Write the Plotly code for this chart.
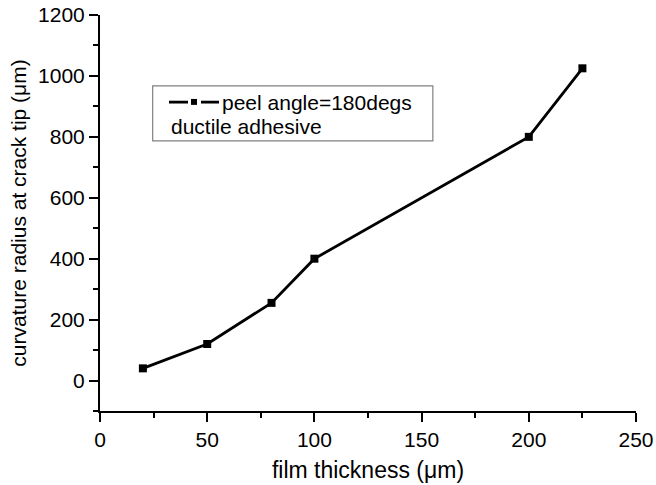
import plotly.graph_objects as go

film_thickness = [20, 50, 80, 100, 200, 225]
curvature_radius = [40, 120, 255, 400, 800, 1025]
x_ticks = [0, 50, 100, 150, 200, 250]
y_ticks = [0, 200, 400, 600, 800, 1000, 1200]
series_name = "peel angle=180degs"
legend_note = "ductile adhesive"

FONT = "Liberation Sans, Arial, sans-serif"

fig = go.Figure()
fig.add_trace(go.Scatter(
    x=film_thickness, y=curvature_radius, mode="lines+markers",
    name=series_name,
    line=dict(color="black", width=2.8),
    marker=dict(symbol="square", size=8, color="black"),
    showlegend=False,
))

axis_common = dict(
    showline=True, linecolor="black", linewidth=2,
    ticks="outside", ticklen=9, tickwidth=2, tickcolor="black",
    showgrid=False, zeroline=False, mirror=False, automargin=False,
    tickfont=dict(family=FONT, size=21, color="black"),
)

fig.update_xaxes(
    range=[0, 250], tickvals=x_ticks,
    title=dict(text="film thickness (\u03bcm)", font=dict(family=FONT, size=23, color="black"), standoff=12),
    minor=dict(dtick=25, tick0=0, ticks="outside", ticklen=5, tickwidth=2, tickcolor="black"),
    **axis_common,
)
fig.update_yaxes(
    range=[-100, 1200], tickvals=y_ticks,
    title=dict(text="curvature radius at crack tip (\u03bcm)", font=dict(family=FONT, size=21, color="black"), standoff=6),
    minor=dict(dtick=100, tick0=0, ticks="outside", ticklen=5, tickwidth=2, tickcolor="black"),
    **axis_common,
)

# manual legend box
shapes = [
    dict(type="rect", xref="paper", yref="paper", x0=0.0983, x1=0.621, y0=0.682, y1=0.821,
         line=dict(color="#808080", width=1.2), fillcolor="white", layer="above"),
    dict(type="line", xref="paper", yref="paper", x0=0.1287, x1=0.1642, y0=0.780, y1=0.780,
         line=dict(color="black", width=2.8), layer="above"),
    dict(type="line", xref="paper", yref="paper", x0=0.1884, x1=0.222, y0=0.780, y1=0.780,
         line=dict(color="black", width=2.8), layer="above"),
    dict(type="rect", xref="paper", yref="paper", x0=0.1698, x1=0.181, y0=0.773, y1=0.788,
         line=dict(color="black", width=0), fillcolor="black", layer="above"),
]
annotations = [
    dict(text=series_name, xref="paper", yref="paper", x=0.2245, y=0.780,
         xanchor="left", yanchor="middle", showarrow=False,
         font=dict(family=FONT, size=21, color="black")),
    dict(text=legend_note, xref="paper", yref="paper", x=0.1285, y=0.719,
         xanchor="left", yanchor="middle", showarrow=False,
         font=dict(family=FONT, size=21, color="black")),
]

fig.update_layout(
    width=656, height=485,
    margin=dict(l=100, r=20, t=15, b=74),
    plot_bgcolor="white", paper_bgcolor="white",
    shapes=shapes, annotations=annotations,
    showlegend=False,
    font=dict(family=FONT, color="black"),
)

fig.write_html("out.html")
